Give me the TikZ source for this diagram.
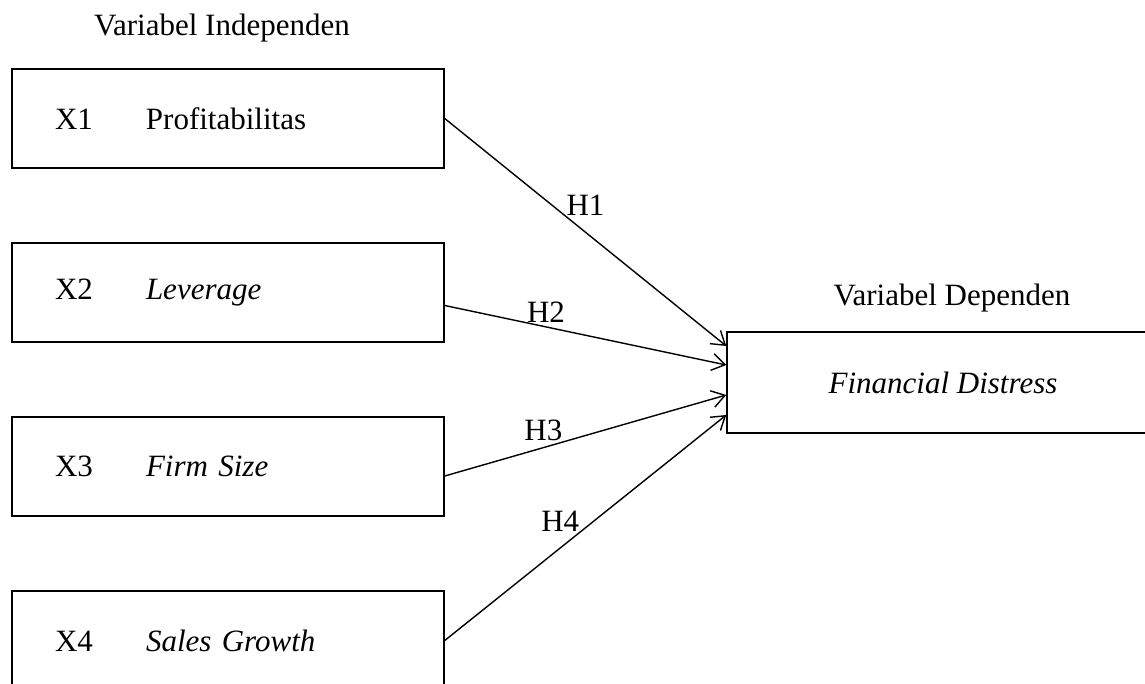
\documentclass[tikz,border=0pt]{standalone}
\usepackage{fontspec}
\setmainfont{Liberation Serif}
\usetikzlibrary{positioning,arrows.meta}

\begin{document}
\begin{tikzpicture}[x=1pt,y=-1pt]
        \tikzset{every node/.style={font=\fontsize{31}{36}\selectfont},
            varbox/.style={draw,rectangle,line width=1.5pt,minimum width=432pt,minimum height=99pt,
                inner xsep=43pt,text width=346pt,align=left},
            depbox/.style={draw,rectangle,line width=1.5pt,minimum width=432pt,minimum height=101pt},
            hyp/.style={draw,line width=1.4pt,-{Straight Barb[length=13pt,width=17pt,line width=1.4pt]}},
            hlabel/.style={inner sep=0pt}}
        \useasboundingbox (0,0) rectangle (1145,684);
        % independent variables
        \node[varbox] (x1) at (228,118.5) {\makebox[91pt][l]{X1}Profitabilitas};
        \node[varbox,below=73.5pt of x1] (x2) {\makebox[91pt][l]{X2}\textit{Leverage}};
        \node[varbox,below=73.5pt of x2] (x3) {\makebox[91pt][l]{X3}\textit{Firm Size}};
        \node[varbox,below=73.5pt of x3] (x4) {\makebox[91pt][l]{X4}\textit{Sales Growth}};
        \node[above=23pt of x1,xshift=-6pt] (indep) {Variabel Independen};
        % dependent variable
        \node[depbox] (fd) at (943,382.5) {\textit{Financial Distress}};
        \node[above=16pt of fd,xshift=9pt] (dep) {Variabel Dependen};
        % hypotheses
        \draw[hyp] (x1.east) -- ([yshift=36.5pt]fd.west)
            node[hlabel,pos=0.43,anchor=south west] (h1) {H1};
        \draw[hyp] ([yshift=-13pt]x2.east) -- ([yshift=17.5pt]fd.west)
            node[hlabel,pos=0.29,anchor=south west] (h2) {H2};
        \draw[hyp] ([yshift=-9.5pt]x3.east) -- ([yshift=-12.5pt]fd.west)
            node[hlabel,pos=0.42,anchor=south east] (h3) {H3};
        \draw[hyp] (x4.east) -- ([yshift=-32.5pt]fd.west)
            node[hlabel,pos=0.48,anchor=south east] (h4) {H4};
    \end{tikzpicture}
\end{document}
